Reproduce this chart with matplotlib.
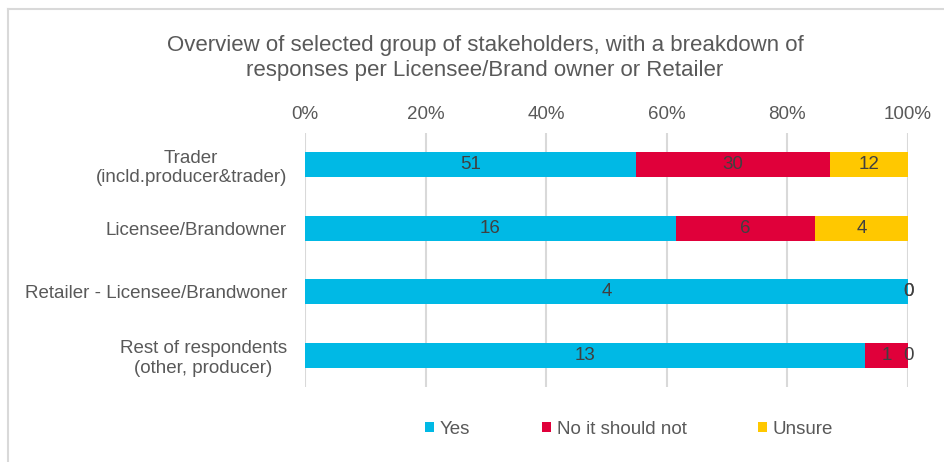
import matplotlib
matplotlib.use("Agg")
import matplotlib.pyplot as plt
from matplotlib.patches import Patch
from matplotlib.lines import Line2D
import numpy as np

plt.rcParams['font.family'] = ['Liberation Sans', 'DejaVu Sans']

categories = ["Trader\n(incld.producer&trader)",
              "Licensee/Brandowner",
              "Retailer - Licensee/Brandwoner",
              "Rest of respondents\n(other, producer)"]
series_names = ["Yes", "No it should not", "Unsure"]
yes = [51, 16, 4, 13]
no = [30, 6, 0, 1]
unsure = [12, 4, 0, 0]
colors = ["#00B9E5", "#E0003A", "#FFC800"]
tick_values = [0, 20, 40, 60, 80, 100]
tick_labels = ["0%", "20%", "40%", "60%", "80%", "100%"]

text_col = "#595959"
grid_col = "#D9D9D9"
fs = 13.5

fig = plt.figure(figsize=(9.45, 4.62), dpi=100)
ax = fig.add_axes([305/945, 75/462, 603/945, 254/462])

counts = np.array([yes, no, unsure], dtype=float)
totals = counts.sum(axis=0)
shares = counts / totals * 100
y = np.arange(len(categories))

left = np.zeros(len(categories))
for i, name in enumerate(series_names):
    ax.barh(y, shares[i], left=left, height=0.4, color=colors[i],
            label=name, zorder=3)
    for j in range(len(categories)):
        ax.text(left[j] + shares[i][j] / 2, y[j], f"{int(counts[i][j])}",
                ha='center', va='center', fontsize=fs, color="#404040",
                zorder=4)
    left = left + shares[i]

ax.set_xlim(0, 100)
ax.set_ylim(3.5, -0.5)
ax.set_xticks(tick_values)
ax.set_xticklabels(tick_labels)
ax.xaxis.tick_top()
ax.tick_params(axis='x', length=0, pad=7, labelsize=fs, colors=text_col)
ax.tick_params(axis='y', length=0, pad=13, labelsize=fs, colors=text_col)
ax.set_yticks(y)
ax.set_yticklabels(categories)
for t in ax.get_yticklabels():
    t.set_multialignment('center')
    t.set_linespacing(1.2)

ax.grid(axis='x', color=grid_col, linewidth=1.5, zorder=0)
for s in ax.spines.values():
    s.set_visible(False)

fig.suptitle("Overview of selected group of stakeholders, with a breakdown of\n"
             "responses per Licensee/Brand owner or Retailer",
             x=485/945, y=1 - 35/462, fontsize=16, color=text_col,
             linespacing=1.22, va='top')

handles = [Patch(facecolor=c, edgecolor='none') for c in colors]
fig.legend(handles, series_names, loc='center', ncol=3,
           bbox_to_anchor=(629/945, 1 - 429/462), frameon=False,
           fontsize=fs, labelcolor=text_col, handlelength=0.5,
           handleheight=0.5, handletextpad=0.3, columnspacing=3.8)

# light frame along the top and left edges
fig.add_artist(Line2D([8/945, 944/945], [1 - 9/462, 1 - 9/462],
                      transform=fig.transFigure, color=grid_col, linewidth=1.5))
fig.add_artist(Line2D([8/945, 8/945], [0, 1 - 9/462],
                      transform=fig.transFigure, color=grid_col, linewidth=1.5))

fig.savefig("out.png", dpi=100)
